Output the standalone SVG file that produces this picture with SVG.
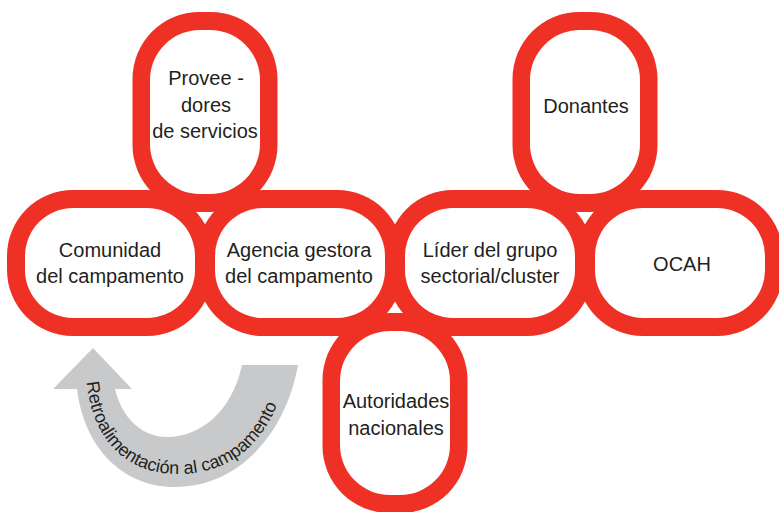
<svg xmlns="http://www.w3.org/2000/svg" width="779" height="512" viewBox="0 0 779 512">
<style>
.o{fill:#EE3124}
.i{fill:#FFFFFF}
.t{font-family:"Liberation Sans",Arial,sans-serif;font-size:20px;fill:#231F20;text-anchor:middle}
.a{fill:#C8C9CA}
.at{font-family:"Liberation Sans",Arial,sans-serif;font-size:18px;fill:#231F20}
</style>
<rect width="779" height="512" fill="#FFFFFF"/>
<g id="connectors">
<path class="a" d="M242,365 L298,365 C286,432 240,487 175,487 C122,487 84,447 77,389 L53,389 L93,348 L132,389 L115,389 C122,418 142,437 167,437 C200,437 232,412 242,365 Z"/>
<path id="tp" d="M86,374 C90,442 128,474 178,474 C232,474 272,442 288,370" fill="none"/>
<text class="at"><textPath href="#tp" startOffset="8">Retroalimentación al campamento</textPath></text>
</g>
<g id="outlines">
<rect class="o" x="7" y="190" width="206" height="146" rx="66"/>
<rect class="o" x="197" y="190" width="206" height="146" rx="66"/>
<rect class="o" x="387" y="190" width="206" height="146" rx="66"/>
<rect class="o" x="577" y="190" width="206" height="146" rx="66"/>
<rect class="o" x="132.5" y="12" width="145" height="200" rx="67"/>
<rect class="o" x="512.5" y="12" width="145" height="200" rx="67"/>
<rect class="o" x="322.5" y="313" width="145" height="200" rx="67"/>
</g>
<g id="comunidad">
<rect class="i" x="25" y="208" width="170" height="110" rx="48"/>
<text class="t" x="110" y="257">Comunidad</text>
<text class="t" x="110" y="283">del campamento</text>
</g>
<g id="agencia">
<rect class="i" x="215" y="208" width="170" height="110" rx="48"/>
<text class="t" x="299" y="257">Agencia gestora</text>
<text class="t" x="299" y="283">del campamento</text>
</g>
<g id="lider">
<rect class="i" x="405" y="208" width="170" height="110" rx="48"/>
<text class="t" x="490" y="257">Líder del grupo</text>
<text class="t" x="490" y="283">sectorial/cluster</text>
</g>
<g id="ocah">
<rect class="i" x="595" y="208" width="170" height="110" rx="48"/>
<text class="t" x="682" y="271">OCAH</text>
</g>
<g id="proveedores">
<rect class="i" x="150" y="30" width="110" height="164" rx="50"/>
<text class="t" x="206" y="85">Provee -</text>
<text class="t" x="206" y="112">dores</text>
<text class="t" x="205" y="138">de servicios</text>
</g>
<g id="donantes">
<rect class="i" x="530" y="30" width="110" height="164" rx="50"/>
<text class="t" x="586" y="113">Donantes</text>
</g>
<g id="autoridades">
<rect class="i" x="340" y="331" width="110" height="164" rx="50"/>
<text class="t" x="396" y="408">Autoridades</text>
<text class="t" x="396" y="435">nacionales</text>
</g>
</svg>
